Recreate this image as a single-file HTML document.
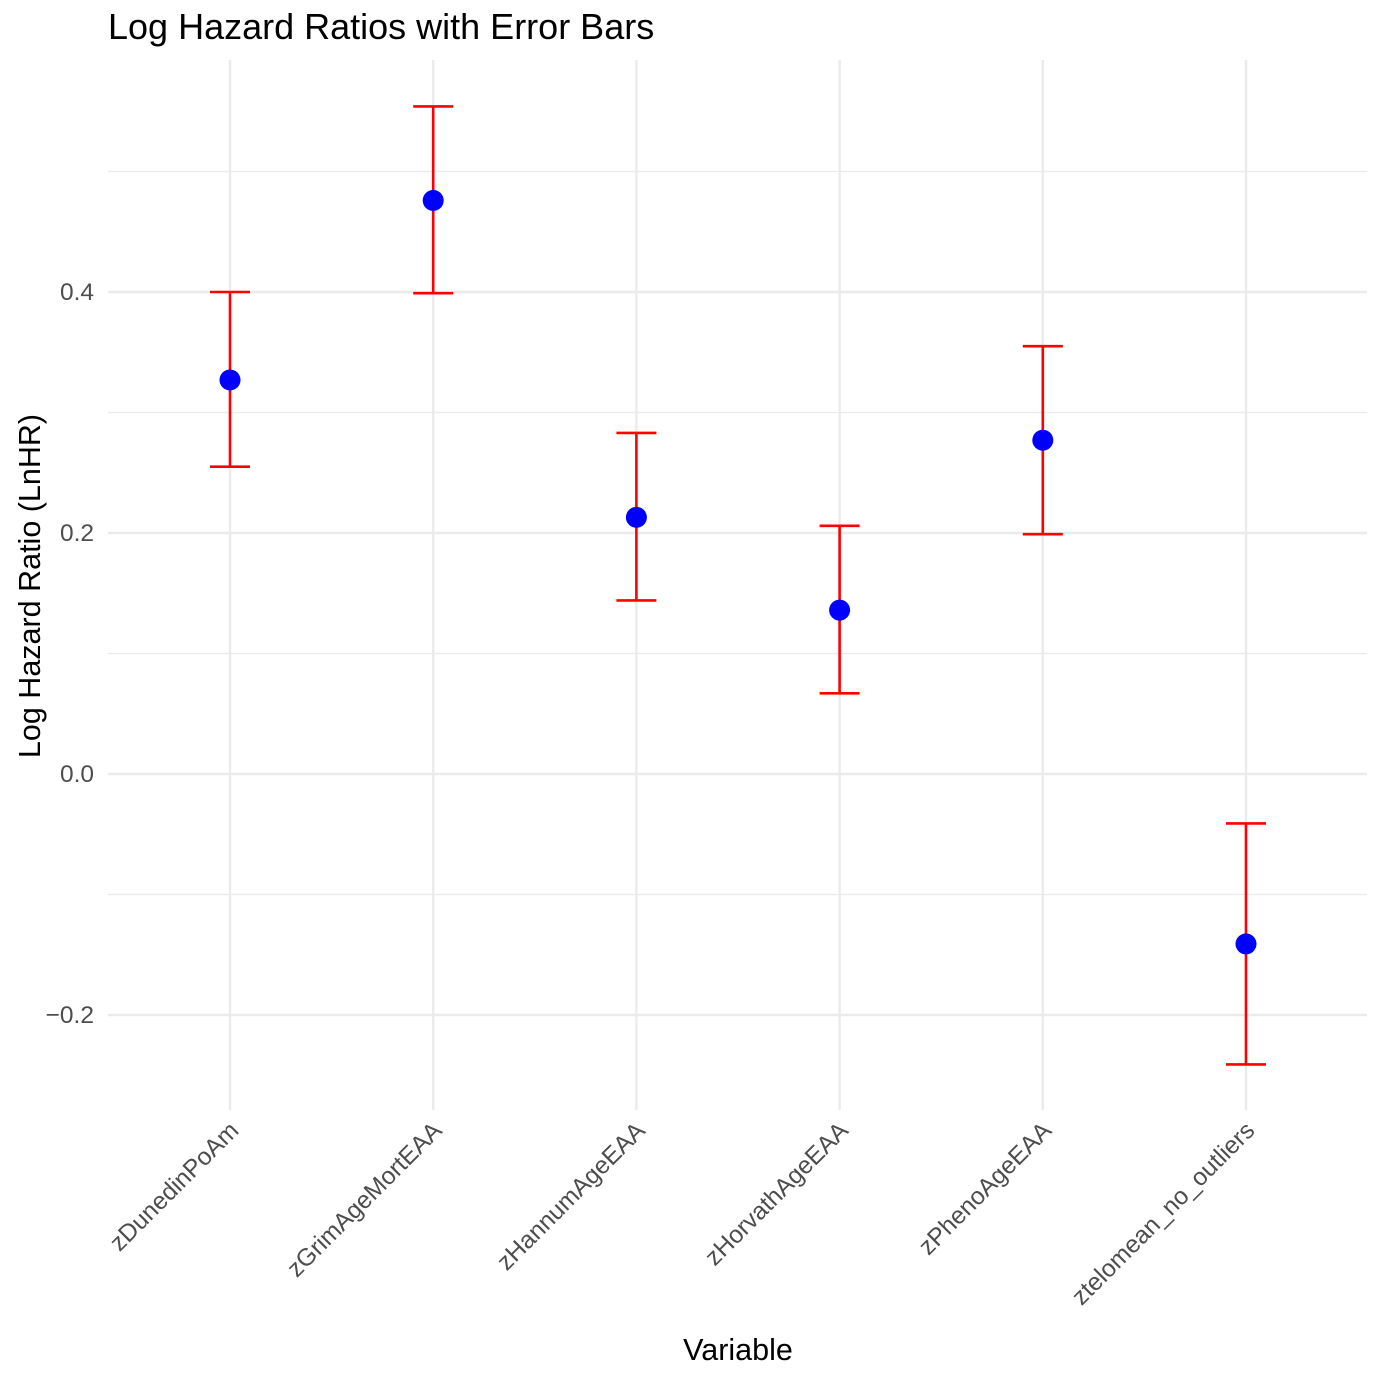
<!DOCTYPE html>
<html><head><meta charset="utf-8"><style>body{margin:0;background:#fff}svg{font-family:"Liberation Sans",sans-serif}</style></head>
<body>
<svg id="c" width="1381" height="1381"></svg>
<script>
const categories=["zDunedinPoAm","zGrimAgeMortEAA","zHannumAgeEAA","zHorvathAgeEAA","zPhenoAgeEAA","ztelomean_no_outliers"];
const estimates=[0.327,0.476,0.213,0.136,0.277,-0.141];
const lowers=[0.255,0.399,0.144,0.067,0.199,-0.241];
const uppers=[0.400,0.554,0.283,0.206,0.355,-0.041];
const yTicks=[-0.2,0.0,0.2,0.4];
const yTickLabels=["\u22120.2","0.0","0.2","0.4"];
const yMinor=[-0.1,0.1,0.3,0.5];
const NS="http://www.w3.org/2000/svg";
const svg=document.getElementById('c');
const L=108,R=1367,T=60,B=1110;
const y=v=>774-1205*v;
const x=i=>230+i*203.2;
function el(t,a,p){const e=document.createElementNS(NS,t);for(const k in a)e.setAttribute(k,a[k]);(p||svg).appendChild(e);return e;}
yMinor.forEach(v=>{const l=el('line',{x1:L,x2:R,y1:y(v),y2:y(v),stroke:'#ebebeb','stroke-width':1.2});

});
yTicks.forEach((v,i)=>{const l=el('line',{x1:L,x2:R,y1:y(v),y2:y(v),stroke:'#ebebeb','stroke-width':2.4});


const t=el('text',{x:94,y:y(v)+8,'text-anchor':'end','font-size':24.5,fill:'#4d4d4d'});t.textContent=yTickLabels[i];

});
categories.forEach((c,i)=>{
const g=el('line',{x1:x(i),x2:x(i),y1:T,y2:B,stroke:'#ebebeb','stroke-width':2.4});


const t=el('text',{transform:`translate(${x(i)+10},${1132}) rotate(-45)`,'text-anchor':'end','font-size':24.5,fill:'#4d4d4d'});t.textContent=c;

});
categories.forEach((c,i)=>{const g=el('g',{});


const a={stroke:'#ff0000','stroke-width':2.6};
el('line',Object.assign({x1:x(i),x2:x(i),y1:y(uppers[i]),y2:y(lowers[i])},a),g);
el('line',Object.assign({x1:x(i)-20,x2:x(i)+20,y1:y(uppers[i]),y2:y(uppers[i])},a),g);
el('line',Object.assign({x1:x(i)-20,x2:x(i)+20,y1:y(lowers[i]),y2:y(lowers[i])},a),g);
const p=el('circle',{cx:x(i),cy:y(estimates[i]),r:10.5,fill:'#0000ff'});

});
const tt=el('text',{x:108,y:39,'font-size':36,fill:'#000'});tt.textContent="Log Hazard Ratios with Error Bars";


const xt=el('text',{x:738,y:1360,'text-anchor':'middle','font-size':30.5,fill:'#000'});xt.textContent="Variable";


const yt=el('text',{transform:'translate(40,586) rotate(-90)','text-anchor':'middle','font-size':30.5,fill:'#000'});yt.textContent="Log Hazard Ratio (LnHR)";


</script>
</body></html>
